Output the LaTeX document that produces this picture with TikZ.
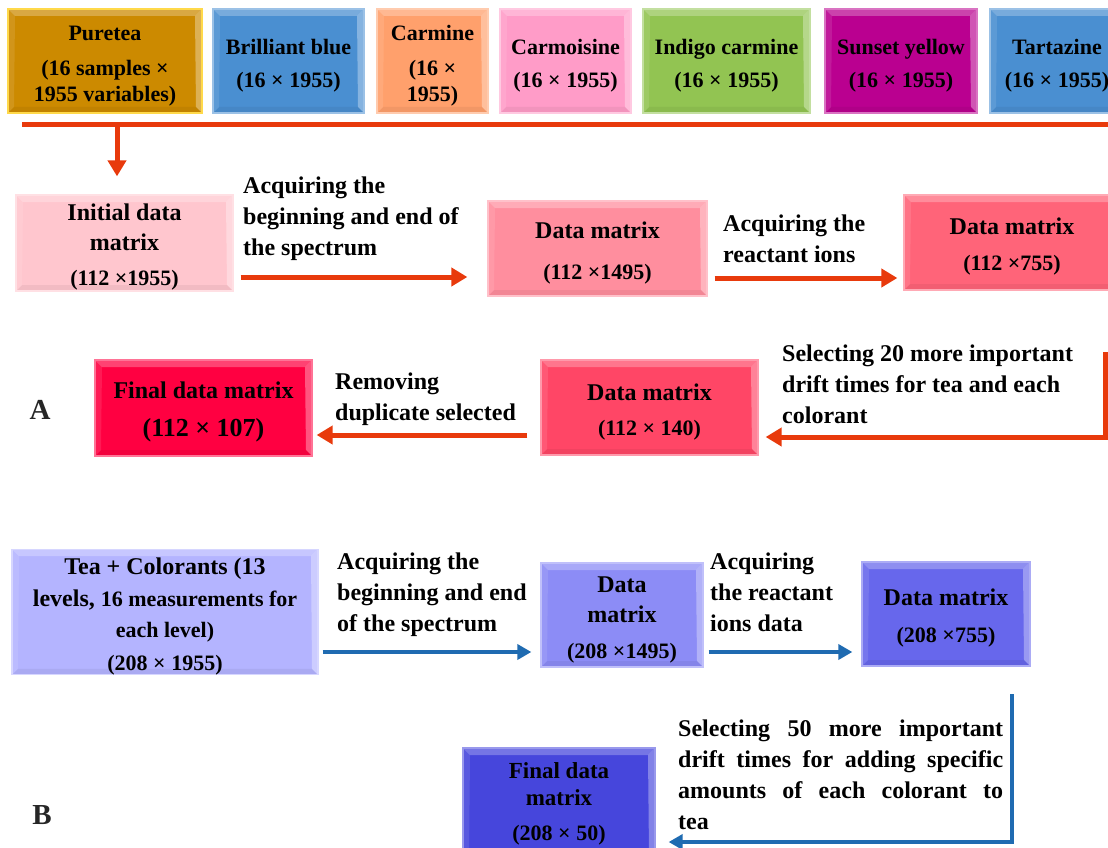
\documentclass[tikz,border=0pt]{standalone}
\usepackage{fontspec}
\setmainfont{Liberation Serif}
\usetikzlibrary{arrows.meta,calc}
\definecolor{cPure}{HTML}{CC8A00}
\definecolor{cPureE}{HTML}{FFD94A}
\definecolor{cBlue}{HTML}{4A8FD1}
\definecolor{cCarmine}{HTML}{FFA06C}
\definecolor{cCarmo}{HTML}{FF9CC8}
\definecolor{cIndigo}{HTML}{92C452}
\definecolor{cSunset}{HTML}{BA0090}
\definecolor{cInit}{HTML}{FFC6CE}
\definecolor{cDmA}{HTML}{FF8E9E}
\definecolor{cDmB}{HTML}{FF6479}
\definecolor{cDmC}{HTML}{FF4666}
\definecolor{cFinA}{HTML}{FF0041}
\definecolor{cTea}{HTML}{B4B4FF}
\definecolor{cDmD}{HTML}{8C8CF6}
\definecolor{cDmE}{HTML}{6767EC}
\definecolor{cFinB}{HTML}{4646DC}
\definecolor{cRed}{HTML}{E83A0C}
\definecolor{cArrB}{HTML}{1F6BB1}
\newcommand\fsT{\fontsize{22}{26}\selectfont}
\newcommand\fsL{\fontsize{24}{31}\selectfont}
\newcommand\fsH{\fontsize{24}{30}\selectfont}
\newcommand\fsS{\fontsize{22}{28}\selectfont}
\newcommand\upr{\rule{0pt}{25pt}}
\tikzset{
  box/.style={rectangle, inner sep=0pt, align=center, font=\bfseries\fsH, text=black,
    fill=#1, draw=#1!55!white, line width=1.3pt,
    path picture={
      \fill[white,opacity=.26] (path picture bounding box.north west) -- (path picture bounding box.north east)
        -- ([shift={(-7pt,-7pt)}]path picture bounding box.north east) -- ([shift={(7pt,-7pt)}]path picture bounding box.north west) -- cycle;
      \fill[black,opacity=.05] (path picture bounding box.south west) -- (path picture bounding box.south east)
        -- ([shift={(-6pt,6pt)}]path picture bounding box.south east) -- ([shift={(6pt,6pt)}]path picture bounding box.south west) -- cycle;
      \fill[white,opacity=.10] (path picture bounding box.north west) -- ([shift={(7pt,-7pt)}]path picture bounding box.north west)
        -- ([shift={(6pt,6pt)}]path picture bounding box.south west) -- (path picture bounding box.south west) -- cycle;
      \fill[white,opacity=.33] (path picture bounding box.north east) -- ([shift={(-7pt,-7pt)}]path picture bounding box.north east)
        -- ([shift={(-6pt,6pt)}]path picture bounding box.south east) -- (path picture bounding box.south east) -- cycle;
    }},
  topbox/.style={box=#1, font=\bfseries\fsT, minimum height=104pt},
  lbl/.style={anchor=west, align=left, inner sep=0pt, font=\bfseries\fsL, text=black},
  redline/.style={draw=cRed, line width=5pt},
  redarrow/.style={draw=cRed, line width=5pt, line join=miter, -{Triangle[length=16pt,width=18pt]}},
  bluearrow/.style={draw=cArrB, line width=4pt, line join=miter, -{Triangle[length=14pt,width=15pt]}},
  panel/.style={font=\bfseries\fontsize{29}{30}\selectfont, text=black!85, inner sep=0pt}
}
\begin{document}
\begin{tikzpicture}[x=1pt,y=-1pt]
\useasboundingbox (0,0) rectangle (1108,848);
\clip (0,0) rectangle (1108,848);
\fill[white] (0,0) rectangle (1108,848);

% top row
\node[topbox=cPure, draw=cPureE, minimum width=194pt] (pure) at (105,61) {\upr Puretea\\[9pt](16 samples ×\\1955 variables)};
\node[topbox=cBlue, minimum width=151pt] (bb) at (288.5,61) {\upr Brilliant blue\\[7pt](16 × 1955)};
\node[topbox=cCarmine, minimum width=111pt] (carm) at (432.5,61) {\upr Carmine\\[9pt](16 ×\\1955)};
\node[topbox=cCarmo, minimum width=131pt] (carmo) at (565.5,61) {\upr Carmoisine\\[7pt](16 × 1955)};
\node[topbox=cIndigo, minimum width=167pt] (indigo) at (726.5,61) {\upr Indigo carmine\\[7pt](16 × 1955)};
\node[topbox=cSunset, minimum width=152pt] (sunset) at (901,61) {\upr Sunset yellow\\[7pt](16 × 1955)};
\node[topbox=cBlue, minimum width=134pt] (tart) at (1057,61) {\upr Tartazine\\[7pt](16 × 1955)};

% bus
\coordinate (busL) at (22,125);
\coordinate (busR) at (1112,125);
\coordinate (busT) at (117,125);
\draw[redline] (busL) -- (busR);

% row A1
\node[box=cInit, minimum width=217pt, minimum height=96pt] (init) at (124.5,243) {\upr Initial data\\matrix\\[5pt]{\fsS (112 ×1955)}};
\node[box=cDmA, minimum width=219pt, minimum height=95pt] (dm1) at (597.5,248.5) {\upr Data matrix\\[11pt]{\fsS (112 ×1495)}};
\node[box=cDmB, minimum width=216pt, minimum height=95pt] (dm2) at (1012,242.5) {\upr Data matrix\\[6pt]{\fsS (112 ×755)}};

% row A2
\node[box=cDmC, minimum width=217pt, minimum height=95pt] (dm3) at (649.5,407.5) {\upr Data matrix\\[5pt]{\fsS (112 × 140)}};
\node[box=cFinA, minimum width=217pt, minimum height=96pt] (finA) at (203.5,408) {\upr Final data matrix\\[8pt]{\fontsize{26}{30}\selectfont (112 × 107)}};

% row B1
\node[box=cTea, minimum width=306pt, minimum height=110pt] (tea) at (165,612) {\upr Tea + Colorants (13\\[2pt]levels, {\fsS 16 measurements for}\\[1pt]{\fsS each level)}\\[3pt]{\fsS (208 × 1955)}};
\node[box=cDmD, minimum width=162pt, minimum height=104pt] (dmB1) at (622,615) {\upr Data\\matrix\\[6pt]{\fsS (208 ×1495)}};
\node[box=cDmE, minimum width=168pt, minimum height=104pt] (dmB2) at (946,614) {\upr Data matrix\\[7pt]{\fsS (208 ×755)}};

% row B2
\node[box=cFinB, font=\bfseries\fontsize{23}{27}\selectfont, minimum width=192pt, minimum height=112pt] (finB) at (559,804) {Final data\\matrix\\[8pt]{\fsS (208 × 50)}};

% labels
\node[lbl] (l1) at (243,219) {Acquiring the\\beginning and end of\\the spectrum};
\node[lbl] (l2) at (723,239) {Acquiring the\\reactant ions};
\node[lbl] (l3) at (782,384) {Selecting 20 more important\\drift times for tea and each\\colorant};
\node[lbl] (l4) at (335,399) {Removing\\duplicate selected};
\node[lbl] (l5) at (337,594.5) {Acquiring the\\beginning and end\\of the spectrum};
\node[lbl] (l6) at (710,592) {Acquiring\\the reactant\\ions data};
\node[lbl, align=justify, text width=325pt] (l7) at (678,774.5) {Selecting 50 more important\linebreak drift times for adding specific\linebreak amounts of each colorant to\linebreak tea};
\node[panel] (pA) at (40,410) {A};
\node[panel] (pB) at (42,815) {B};

% arrows A
\draw[redarrow, shorten >=18pt] (busT) -- (busT |- init.north);
\draw[redarrow] ([xshift=7pt]init.east |- 0,277) -- ([xshift=-20pt]dm1.west |- 0,277);
\draw[redarrow] ([xshift=7pt]dm1.east |- 0,278) -- ([xshift=-6pt]dm2.west |- 0,278);
\coordinate (loopA) at (1105,352);
\draw[redarrow] (loopA) -- (loopA |- 0,437) -- ([xshift=7pt]dm3.east |- 0,437);
\draw[redarrow] ([xshift=-13pt]dm3.west |- 0,435) -- ([xshift=4pt]finA.east |- 0,435);

% arrows B
\draw[bluearrow] ([xshift=4pt]tea.east |- 0,652) -- ([xshift=-9pt]dmB1.west |- 0,652);
\draw[bluearrow] ([xshift=5pt]dmB1.east |- 0,652) -- ([xshift=-9pt]dmB2.west |- 0,652);
\coordinate (loopB) at (1012,694);
\draw[bluearrow] (loopB) -- (loopB |- 0,842) -- ([xshift=13pt]finB.east |- 0,842);
\end{tikzpicture}
\end{document}
